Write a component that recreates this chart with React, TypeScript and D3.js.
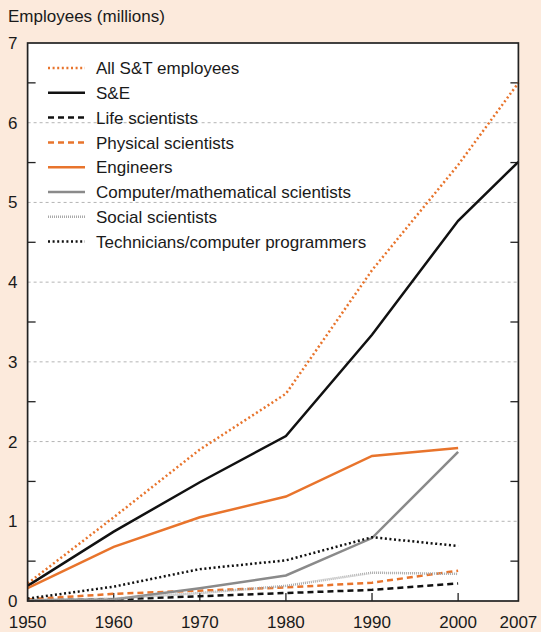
import React from "react";
import * as d3 from "d3";

const years = [1950, 1960, 1970, 1980, 1990, 2000, 2007];
const yearsTo2000 = [1950, 1960, 1970, 1980, 1990, 2000];

const allST = [0.22, 1.05, 1.9, 2.6, 4.15, 5.47, 6.5];
const sAndE = [0.19, 0.87, 1.49, 2.07, 3.34, 4.77, 5.51];
const lifeSci = [0.01, 0.02, 0.06, 0.1, 0.14, 0.22];
const physSci = [0.02, 0.09, 0.13, 0.17, 0.23, 0.38];
const engineers = [0.16, 0.68, 1.05, 1.31, 1.82, 1.92];
const compMath = [0.01, 0.02, 0.16, 0.32, 0.79, 1.87];
const socialSci = [0.01, 0.03, 0.1, 0.19, 0.355, 0.34];
const technicians = [0.03, 0.18, 0.4, 0.51, 0.8, 0.69];

const yTicks = [0, 1, 2, 3, 4, 5, 6, 7];
const yMinorTicks = [0.5, 1.5, 2.5, 3.5, 4.5, 5.5, 6.5];
const xTickLabels = ["1950", "1960", "1970", "1980", "1990", "2000", "2007"];
const xInnerTicks = [1960, 1970, 1980, 1990, 2000];

const ORANGE = "#E8742C";
const BG = "#FCEADC";

type Series = {
  name: string;
  x: number[];
  v: number[];
  color: string;
  width: number;
  dash?: string;
  cap?: "butt" | "round" | "square";
};

const series: Series[] = [
  { name: "All S&T employees", x: years, v: allST, color: ORANGE, width: 2.5, dash: "2 2.6" },
  { name: "S&E", x: years, v: sAndE, color: "#111111", width: 2.5 },
  { name: "Life scientists", x: yearsTo2000, v: lifeSci, color: "#111111", width: 2.5, dash: "6 4" },
  { name: "Physical scientists", x: yearsTo2000, v: physSci, color: ORANGE, width: 2.5, dash: "6 4" },
  { name: "Engineers", x: yearsTo2000, v: engineers, color: ORANGE, width: 2.5 },
  { name: "Computer/mathematical scientists", x: yearsTo2000, v: compMath, color: "#8A8A8A", width: 2.5 },
  { name: "Social scientists", x: yearsTo2000, v: socialSci, color: "#A9A9A9", width: 2.5, dash: "1 1" },
  { name: "Technicians/computer programmers", x: yearsTo2000, v: technicians, color: "#111111", width: 2.5, dash: "2 2.6" },
];

const W = 541;
const H = 632;
const M = { left: 27.6, right: 518.4, top: 43, bottom: 601 };
const FONT = "'Liberation Sans', Arial, Helvetica, sans-serif";

export default function App() {
  const x = d3.scaleLinear().domain([1950, 2007]).range([M.left, M.right]);
  const y = d3.scaleLinear().domain([0, 7]).range([M.bottom, M.top]);
  const line = d3
    .line<[number, number]>()
    .x((d) => x(d[0]))
    .y((d) => y(d[1]));

  const legendX0 = 48;
  const legendX1 = 85;
  const legendTextX = 96;
  const legendY0 = 68;
  const legendStep = 24.8;

  return (
    <svg
      width={W}
      height={H}
      style={{ position: "absolute", left: 0, top: 0, display: "block" }}
      fontFamily={FONT}
    >
      <rect x={0} y={0} width={W} height={H} fill={BG} />
      <rect x={M.left} y={M.top} width={M.right - M.left} height={M.bottom - M.top} fill="#ffffff" />

      {/* gridlines */}
      {yTicks.slice(1, -1).map((t) => (
        <line
          key={"g" + t}
          x1={M.left}
          x2={M.right}
          y1={y(t)}
          y2={y(t)}
          stroke="#B4B4B4"
          strokeWidth={1}
          strokeDasharray="3 3"
        />
      ))}

      {/* minor ticks left/right */}
      {yMinorTicks.map((t) => (
        <g key={"m" + t}>
          <line x1={M.left} x2={M.left + 8} y1={y(t)} y2={y(t)} stroke="#222" strokeWidth={1.3} />
          <line x1={M.right - 8} x2={M.right} y1={y(t)} y2={y(t)} stroke="#222" strokeWidth={1.3} />
        </g>
      ))}

      {/* bottom ticks */}
      {xInnerTicks.map((t) => (
        <line key={"xt" + t} x1={x(t)} x2={x(t)} y1={M.bottom} y2={M.bottom - 8} stroke="#222" strokeWidth={1.3} />
      ))}

      {/* series */}
      {series.map((s) => (
        <path
          key={s.name}
          d={line(s.x.map((yr, i) => [yr, s.v[i]] as [number, number])) || ""}
          fill="none"
          stroke={s.color}
          strokeWidth={s.width}
          strokeDasharray={s.dash}
          strokeLinejoin="miter"
        />
      ))}

      {/* frame */}
      <rect
        x={M.left}
        y={M.top}
        width={M.right - M.left}
        height={M.bottom - M.top}
        fill="none"
        stroke="#222"
        strokeWidth={1.7}
      />

      {/* y labels */}
      {yTicks.map((t) => (
        <text key={"yl" + t} x={17.5} y={y(t)} dy="0.35em" textAnchor="end" fontSize={17} fill="#1a1a1a">
          {t}
        </text>
      ))}

      {/* x labels */}
      {xTickLabels.map((lab) => (
        <text key={"xl" + lab} x={x(+lab)} y={628} textAnchor="middle" fontSize={17} fill="#1a1a1a">
          {lab}
        </text>
      ))}

      {/* axis title */}
      <text x={8} y={22} fontSize={17} fill="#1a1a1a">
        Employees (millions)
      </text>

      {/* legend */}
      {series.map((s, i) => {
        const ly = legendY0 + i * legendStep;
        return (
          <g key={"lg" + s.name}>
            <line
              x1={legendX0}
              x2={legendX1}
              y1={ly}
              y2={ly}
              stroke={s.color}
              strokeWidth={s.width}
              strokeDasharray={s.dash}
            />
            <text x={legendTextX} y={ly} dy="0.36em" fontSize={17} fill="#1a1a1a">
              {s.name}
            </text>
          </g>
        );
      })}
    </svg>
  );
}
